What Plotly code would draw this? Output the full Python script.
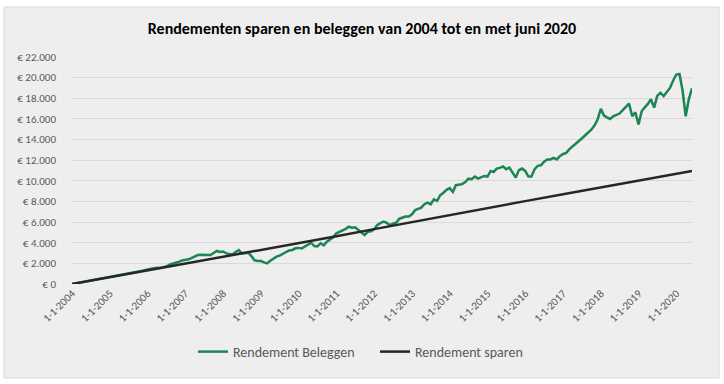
import pandas as pd
import plotly.graph_objects as go

title = "Rendementen sparen en beleggen van 2004 tot en met juni 2020"
series_names = ["Rendement Beleggen", "Rendement sparen"]

# Monthly values (1st of each month), Jan 2004 - Jun 2020
beleggen = [
    # 2004
    0, 55, 110, 160, 215, 270, 325, 375, 430, 490, 545, 600,
    # 2005
    655, 710, 765, 820, 880, 935, 990, 1060, 1110, 1170, 1250, 1330,
    # 2006
    1420, 1480, 1530, 1580, 1560, 1620, 1700, 1880, 1950, 2050, 2150, 2280,
    # 2007
    2330, 2400, 2500, 2650, 2810, 2830, 2810, 2780, 2810, 3000, 3200, 3100,
    # 2008
    3150, 2970, 2900, 2870, 3100, 3290, 2970, 3000, 3030, 2700, 2300, 2230,
    # 2009
    2230, 2100, 2000, 2250, 2450, 2650, 2750, 2970, 3100, 3250, 3300, 3460,
    # 2010
    3500, 3450, 3620, 3800, 4000, 3680, 3650, 3950, 3750, 4100, 4300, 4520,
    # 2011
    4910, 5050, 5230, 5350, 5550, 5450, 5490, 5230, 4950, 4750, 5070, 5100,
    # 2012
    5300, 5720, 5900, 6040, 5940, 5700, 5850, 5940, 6330, 6450, 6530, 6530,
    # 2013
    6750, 7170, 7300, 7400, 7730, 7890, 7730, 8210, 8050, 8600, 8850, 9120,
    # 2014
    9290, 8920, 9580, 9600, 9680, 9880, 10210, 10150, 10410, 10210, 10350, 10470,
    # 2015
    10410, 10960, 10860, 11190, 11250, 11390, 11130, 11290, 10800, 10310, 11040, 11190,
    # 2016
    10960, 10410, 10410, 11130, 11450, 11500, 11850, 12070, 12070, 12230, 12070, 12390,
    # 2017
    12600, 12710, 13050, 13300, 13520, 13800, 14100, 14390, 14650, 14950, 15360, 15940,
    # 2018
    16970, 16320, 16150, 16000, 16260, 16400, 16520, 16850, 17220, 17480, 16260, 16650,
    # 2019
    15470, 16760, 17100, 17450, 17900, 17090, 18220, 18540, 18220, 18600, 19000, 19700,
    # 2020
    20300, 20350, 18800, 16260, 17900, 18960,
]

sparen_dates = ["2004-01-01", "2005-01-01", "2006-01-01", "2007-01-01", "2008-01-01",
                "2009-01-01", "2010-01-01", "2011-01-01", "2012-01-01", "2013-01-01",
                "2014-01-01", "2015-01-01", "2016-01-01", "2017-01-01", "2018-01-01",
                "2019-01-01", "2020-01-01", "2020-06-01"]
sparen = [0, 660, 1310, 1970, 2620, 3260, 3930, 4620, 5320, 6010,
          6700, 7370, 8030, 8690, 9350, 10000, 10660, 10960]

tick_years = list(range(2004, 2021))
tick_labels = [f"1-1-{y}" for y in tick_years]
y_ticks = list(range(0, 22001, 2000))
y_labels = ["€ " + f"{v:,}".replace(",", ".") for v in y_ticks]

beleggen_dates = pd.date_range("2004-01-01", periods=len(beleggen), freq="MS")

FONT = "Carlito, Calibri, Roboto, sans-serif"

fig = go.Figure()
fig.add_trace(go.Scatter(x=beleggen_dates, y=beleggen, mode="lines",
                         name=series_names[0],
                         line=dict(color="#1B8553", width=2.5)))
fig.add_trace(go.Scatter(x=pd.to_datetime(sparen_dates), y=sparen, mode="lines",
                         name=series_names[1],
                         line=dict(color="#262626", width=2.5)))

L, R, T, B = 72, 32, 57, 100
W, H = 724, 384
pw, ph = W - L - R, H - T - B

def px_x(px):
    return (px - L) / pw

def px_y(py):
    return (H - B - py) / ph

fig.add_shape(type="rect", xref="paper", yref="paper",
              x0=px_x(4), x1=px_x(719), y0=px_y(378), y1=px_y(7),
              fillcolor="#EEEEEE", line=dict(color="#D9D9D9", width=1),
              layer="below")

fig.update_layout(
    width=W, height=H,
    margin=dict(l=L, r=R, t=T, b=B, autoexpand=False),
    paper_bgcolor="white",
    plot_bgcolor="rgba(0,0,0,0)",
    font=dict(family=FONT, color="#595959", size=11),
    title=dict(text="<b>" + title + "</b>", x=0.5, xref="container",
               xanchor="center", y=1 - 28 / H, yref="container",
               yanchor="middle", automargin=False,
               font=dict(family=FONT, size=16, color="#000000")),
    showlegend=True,
    legend=dict(orientation="h", x=px_x(193), xanchor="left",
                y=px_y(352), yanchor="middle",
                entrywidth=137, entrywidthmode="pixels",
                font=dict(family=FONT, size=14, color="#595959"),
                bgcolor="rgba(0,0,0,0)"),
    xaxis=dict(type="date", range=["2004-01-01", "2020-06-01"],
               tickvals=[f"{y}-01-01" for y in tick_years], ticktext=tick_labels,
               tickangle=-45, showgrid=False, zeroline=False, automargin=False,
               showline=False, ticks="",
               tickfont=dict(family=FONT, size=11, color="#595959")),
    yaxis=dict(range=[0, 22000], tickvals=y_ticks, ticktext=y_labels,
               showgrid=True, gridcolor="#D9D9D9", automargin=False,
               gridwidth=1, zeroline=False, showline=False, ticks="",
               ticklabelstandoff=15,
               tickfont=dict(family=FONT, size=11, color="#595959")),
)

fig.write_html("out.html", config={"displayModeBar": False},
               post_script="document.body.style.margin='0';document.body.style.overflow='hidden';")
